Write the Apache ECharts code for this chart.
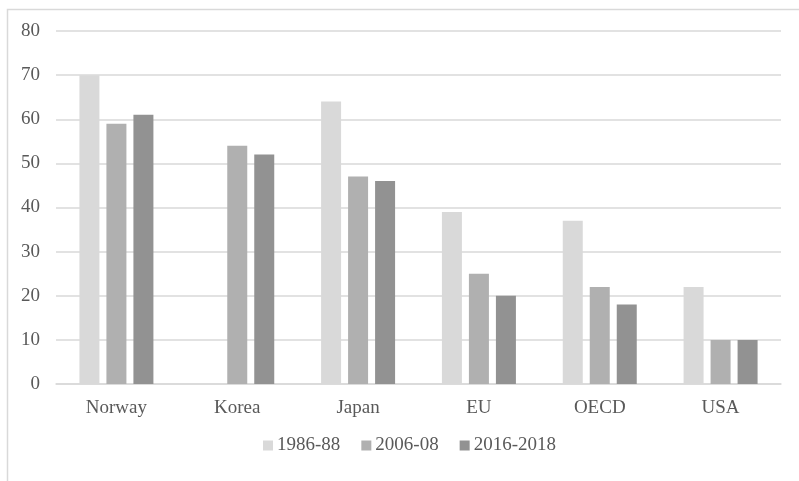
<!DOCTYPE html>
<html>
<head>
<meta charset="utf-8">
<script src="https://cdn.jsdelivr.net/npm/echarts@6/dist/echarts.min.js"></script>
<style>
  html, body { margin: 0; padding: 0; background: #ffffff; }
  #chart { width: 799px; height: 481px; }
</style>
</head>
<body>
<div id="chart"></div>
<script>
// Categories along the x axis
const categories = ['Norway', 'Korea', 'Japan', 'EU', 'OECD', 'USA'];

// Series names and values (Korea has no 1986-88 value)
const seriesNames = ['1986-88', '2006-08', '2016-2018'];
const values1986 = [70, null, 64, 39, 37, 22];
const values2006 = [59, 54, 47, 25, 22, 10];
const values2016 = [61, 52, 46, 20, 18, 10];

// Y axis range
const yMin = 0;
const yMax = 80;
const yStep = 10;

const colors = ['#d9d9d9', '#b0b0b0', '#929292'];
const textColor = '#595959';
const fontFamily = '"Liberation Serif", "Times New Roman", serif';

const chart = echarts.init(document.getElementById('chart'), null, { renderer: 'canvas' });

const seriesData = [values1986, values2006, values2016];

chart.setOption({
  animation: false,
  backgroundColor: '#ffffff',
  textStyle: { fontFamily: fontFamily },
  graphic: [{
    type: 'rect',
    left: 5,
    top: 7,
    shape: { width: 900, height: 600 },
    style: { fill: 'none', stroke: '#d9d9d9', lineWidth: 1.5 },
    silent: true
  }],
  grid: { left: 56, right: 18, top: 31, bottom: 97, containLabel: false },
  legend: {
    data: seriesNames,
    left: 258,
    top: 431,
    itemWidth: 10,
    itemHeight: 10,
    itemGap: 21,
    icon: 'rect',
    textStyle: { color: textColor, fontSize: 19, fontFamily: fontFamily, padding: [0, 0, 0, -1] }
  },
  xAxis: {
    type: 'category',
    data: categories,
    axisTick: { show: false },
    axisLine: { show: true, lineStyle: { color: '#d9d9d9', width: 1.5 } },
    axisLabel: { color: textColor, fontSize: 19, fontFamily: fontFamily, margin: 15 }
  },
  yAxis: {
    type: 'value',
    min: yMin,
    max: yMax,
    interval: yStep,
    axisLine: { show: false },
    axisTick: { show: false },
    splitLine: { lineStyle: { color: '#d9d9d9', width: 1.5 } },
    axisLabel: { color: textColor, fontSize: 19, fontFamily: fontFamily, margin: 16 }
  },
  series: seriesNames.map((name, i) => ({
    name: name,
    type: 'bar',
    data: seriesData[i],
    barWidth: 20,
    barGap: '35%',
    itemStyle: { color: colors[i] }
  }))
});
</script>
</body>
</html>
